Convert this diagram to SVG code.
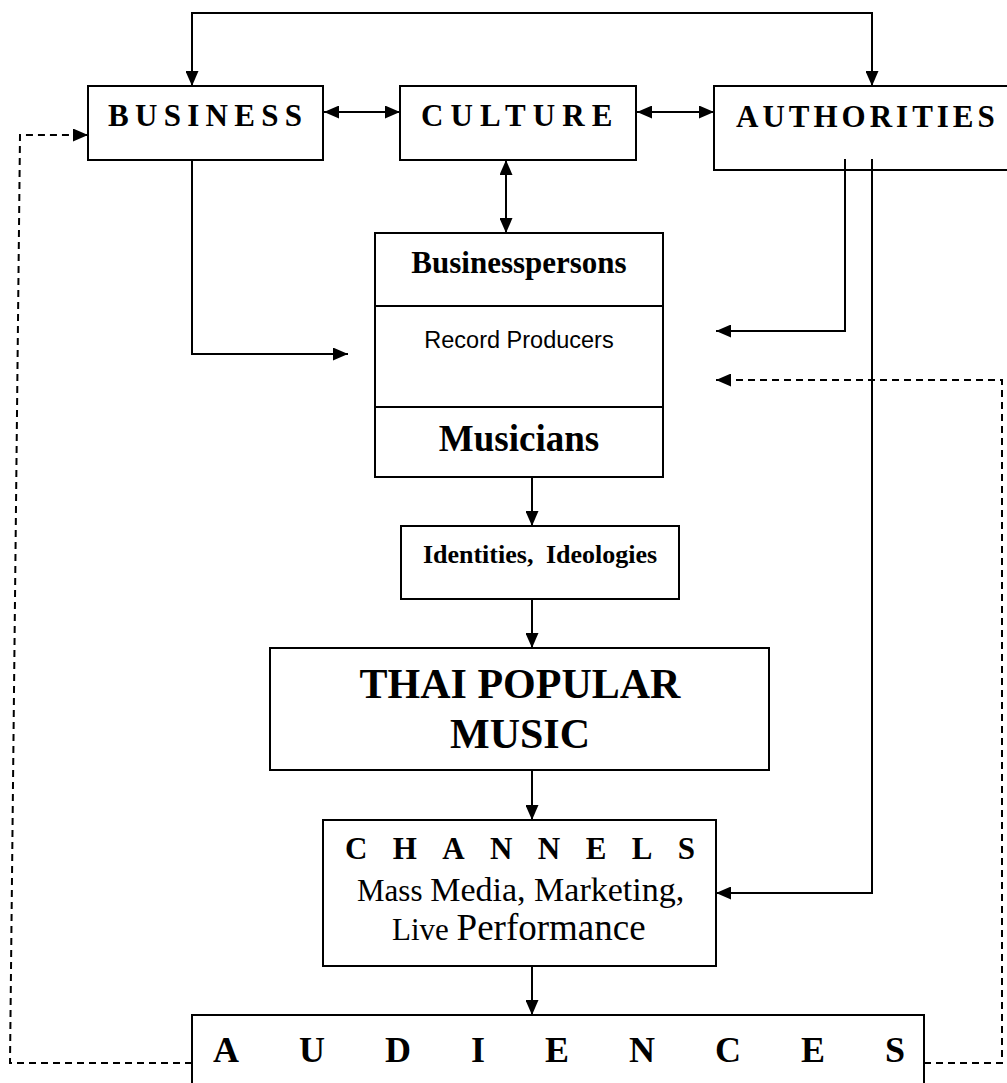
<svg xmlns="http://www.w3.org/2000/svg" width="1007" height="1083" viewBox="0 0 1007 1083">
<style>
.box{fill:#fff;stroke:#000;stroke-width:2}
.ln{fill:none;stroke:#000;stroke-width:2}
.dash{fill:none;stroke:#000;stroke-width:2;stroke-dasharray:7 5}
.serif{font-family:"Liberation Serif","Times New Roman",serif;fill:#000}
.b{font-weight:bold}
.sans{font-family:"Liberation Sans",Arial,sans-serif;fill:#000}
</style>
<defs>
<marker id="ah" markerUnits="userSpaceOnUse" markerWidth="15" markerHeight="13" refX="15" refY="6.5" orient="auto-start-reverse" viewBox="0 0 15 13">
<path d="M0,0 L15,6.5 L0,13 z" fill="#000"/>
</marker>
</defs>
<rect width="1007" height="1083" fill="#fff"/>

<g id="business">
<rect class="box" x="88" y="86" width="235" height="74"/>
<text class="serif b" x="108" y="126" font-size="31" letter-spacing="6.3">BUSINESS</text>
</g>

<g id="culture">
<rect class="box" x="400" y="86" width="236" height="74"/>
<text class="serif b" x="421" y="126" font-size="31" letter-spacing="7.1">CULTURE</text>
</g>

<g id="authorities">
<rect class="box" x="714" y="86" width="300" height="84"/>
<text class="serif b" x="736" y="126.5" font-size="31" letter-spacing="4">AUTHORITIES</text>
</g>

<g id="actors">
<rect class="box" x="375" y="233" width="288" height="244"/>
<line class="ln" x1="375" y1="306" x2="663" y2="306"/>
<line class="ln" x1="375" y1="407" x2="663" y2="407"/>
<text class="serif b" x="519" y="273" font-size="31" text-anchor="middle">Businesspersons</text>
<text class="sans" x="519" y="348" font-size="23.5" text-anchor="middle">Record Producers</text>
<text class="serif b" x="519" y="451" font-size="37" text-anchor="middle">Musicians</text>
</g>

<g id="identities">
<rect class="box" x="401" y="526" width="278" height="73"/>
<text class="serif b" x="540" y="563" font-size="26" text-anchor="middle" word-spacing="6">Identities, Ideologies</text>
</g>

<g id="thai">
<rect class="box" x="270" y="648" width="499" height="122"/>
<text class="serif b" x="520" y="698" font-size="42" text-anchor="middle">THAI POPULAR</text>
<text class="serif b" x="520" y="748" font-size="42" text-anchor="middle">MUSIC</text>
</g>

<g id="channels">
<rect class="box" x="323" y="820" width="393" height="146"/>
<text class="serif b" x="345" y="859" font-size="31" letter-spacing="25.4">CHANNELS</text>
<text class="serif" x="357" y="901"><tspan font-size="31">Mass </tspan><tspan font-size="34">Media, Marketing,</tspan></text>
<text class="serif" x="392" y="940"><tspan font-size="31">Live </tspan><tspan font-size="37">Performance</tspan></text>
</g>

<g id="audiences">
<rect class="box" x="192" y="1015" width="732" height="80"/>
<text class="serif b" x="213" y="1062" font-size="36" letter-spacing="60">AUDIENCES</text>
</g>

<g id="connectors">
<path class="ln" d="M192,86 V13 H872 V86" marker-start="url(#ah)" marker-end="url(#ah)"/>
<path class="ln" d="M324,112 H400" marker-start="url(#ah)" marker-end="url(#ah)"/>
<path class="ln" d="M637,112 H714" marker-start="url(#ah)" marker-end="url(#ah)"/>
<path class="ln" d="M506,160 V233" marker-start="url(#ah)" marker-end="url(#ah)"/>
<path class="ln" d="M192,160 V354 H348" marker-end="url(#ah)"/>
<path class="ln" d="M845,159 V331 H716" marker-end="url(#ah)"/>
<path class="ln" d="M872,159 V893 H716" marker-end="url(#ah)"/>
<path class="ln" d="M532,477 V526" marker-end="url(#ah)"/>
<path class="ln" d="M532,599 V648" marker-end="url(#ah)"/>
<path class="ln" d="M532,770 V820" marker-end="url(#ah)"/>
<path class="ln" d="M532,966 V1015" marker-end="url(#ah)"/>
<path class="dash" d="M192,1063 H10 L20,135 H88" marker-end="url(#ah)"/>
<path class="dash" d="M924,1063 H1002 V380 H716" marker-end="url(#ah)"/>
</g>
</svg>
